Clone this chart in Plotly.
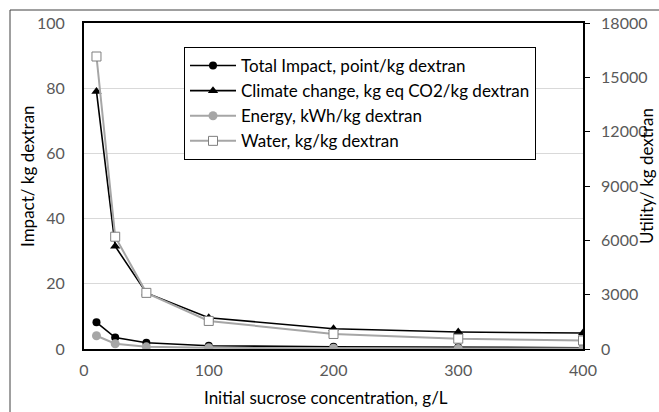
import plotly.graph_objects as go

# Data
conc = [10, 25, 50, 100, 200, 300, 400]
total_impact = [8.2, 3.5, 1.9, 1.0, 0.7, 0.5, 0.4]
climate_change = [79.0, 31.5, 17.2, 9.6, 6.2, 5.2, 4.9]
energy = [730, 290, 120, 70, 40, 30, 25]
water = [16150, 6200, 3100, 1550, 830, 570, 470]

x_ticks = [0, 100, 200, 300, 400]
y1_ticks = [0, 20, 40, 60, 80, 100]
y2_ticks = [0, 3000, 6000, 9000, 12000, 15000, 18000]

FONT = "Lato"
GRAY_TXT = "#595959"
TICK_SIZE = 16

fig = go.Figure()
fig.add_trace(go.Scatter(
    x=conc, y=total_impact, name="Total Impact, point/kg dextran",
    mode="lines+markers", line=dict(color="black", width=1.6),
    marker=dict(symbol="circle", size=8, color="black"), legendgroup="a"))
fig.add_trace(go.Scatter(
    x=conc, y=climate_change, name="Climate change, kg eq CO2/kg dextran",
    mode="lines+markers", line=dict(color="black", width=1.6),
    marker=dict(symbol="triangle-up", size=9, color="black"), legendgroup="b"))
fig.add_trace(go.Scatter(
    x=conc, y=energy, name="Energy, kWh/kg dextran", yaxis="y2",
    mode="lines+markers", line=dict(color="#a6a6a6", width=2),
    marker=dict(symbol="circle", size=9, color="#a6a6a6"), legendgroup="c"))
fig.add_trace(go.Scatter(
    x=conc, y=water, name="Water, kg/kg dextran", yaxis="y2",
    mode="lines+markers", line=dict(color="#a6a6a6", width=2),
    marker=dict(symbol="square", size=9, color="white",
                line=dict(color="#7f7f7f", width=1)), legendgroup="d"))

W, H = 659, 412
L, R, T, B = 84, 583, 23, 349
pw, ph = R - L, B - T

def px_x(p):
    return (p - L) / pw

def px_y(p):
    return (B - p) / ph

fig.update_layout(
    width=W, height=H,
    margin=dict(l=L, r=W - R, t=T, b=H - B),
    paper_bgcolor="white", plot_bgcolor="white",
    font=dict(family=FONT, size=TICK_SIZE, color=GRAY_TXT),
    showlegend=True,
    legend=dict(
        x=px_x(184), y=px_y(47), xanchor="left", yanchor="top",
        bgcolor="white", bordercolor="black", borderwidth=1,
        font=dict(family=FONT, size=17, color="black"),
        tracegroupgap=0, itemwidth=46,
    ),
    xaxis=dict(
        range=[0, 400], tickvals=x_ticks, showgrid=False, zeroline=False,
        showline=True, linecolor="black", linewidth=1.8, mirror=True,
        ticks="", ticklabelstandoff=6,
        tickfont=dict(family=FONT, size=TICK_SIZE, color=GRAY_TXT),
    ),
    yaxis=dict(
        range=[0, 100], tickvals=y1_ticks, showgrid=True, gridcolor="#d9d9d9",
        gridwidth=1, zeroline=False, showline=True, linecolor="black",
        linewidth=1.8, ticks="", ticklabelstandoff=14,
        tickfont=dict(family=FONT, size=TICK_SIZE, color=GRAY_TXT),
    ),
    yaxis2=dict(
        range=[0, 18000], tickvals=y2_ticks, tickformat="d",
        overlaying="y", side="right",
        showgrid=False, zeroline=False, showline=True, linecolor="black",
        linewidth=1.8, ticks="outside", ticklen=5, tickcolor="black",
        ticklabelstandoff=8,
        tickfont=dict(family=FONT, size=TICK_SIZE, color=GRAY_TXT),
    ),
    annotations=[
        dict(text="Initial sucrose concentration, g/L", x=px_x(326), y=px_y(397),
             xref="paper", yref="paper", showarrow=False,
             xanchor="center", yanchor="middle",
             font=dict(family=FONT, size=17, color="black")),
        dict(text="Impact/ kg dextran", x=px_x(28), y=px_y(176),
             xref="paper", yref="paper", showarrow=False, textangle=-90,
             xanchor="center", yanchor="middle",
             font=dict(family=FONT, size=17, color="black")),
        dict(text="Utility/ kg dextran", x=px_x(647), y=px_y(176),
             xref="paper", yref="paper", showarrow=False, textangle=-90,
             xanchor="center", yanchor="middle",
             font=dict(family=FONT, size=17, color="black")),
    ],
    shapes=[
        dict(type="line", xref="paper", yref="paper",
             x0=px_x(10), x1=px_x(670), y0=px_y(10), y1=px_y(10),
             line=dict(color="#404040", width=1)),
        dict(type="line", xref="paper", yref="paper",
             x0=px_x(10), x1=px_x(10), y0=px_y(10), y1=px_y(420),
             line=dict(color="#404040", width=1)),
    ],
)

fig.write_html("out.html", config={"displayModeBar": False},
               post_script="document.body.style.margin='0px';")
